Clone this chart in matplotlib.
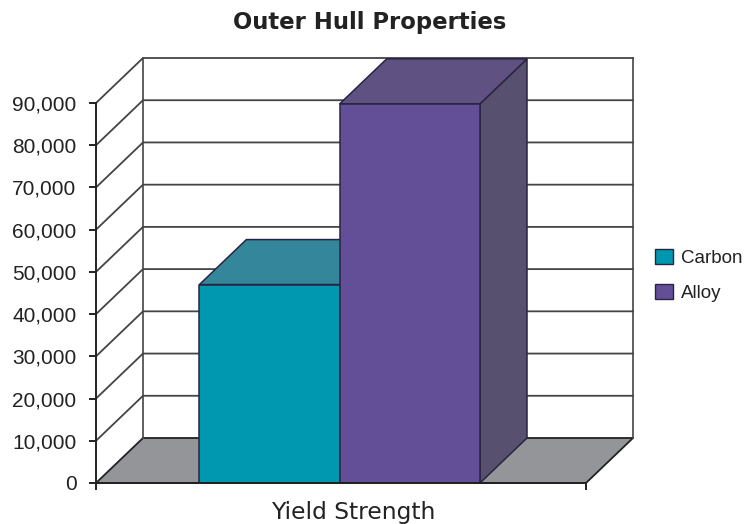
import matplotlib
matplotlib.use("Agg")
import matplotlib.pyplot as plt
from matplotlib.patches import Polygon, Patch

title = "Outer Hull Properties"
category = "Yield Strength"
series = ["Carbon", "Alloy"]
values = [47000, 89800]
front_colors = ["#0097B0", "#624F98"]
top_colors = ["#34869A", "#5F5283"]
side_colors = ["#2F7488", "#58506F"]
y_ticks = list(range(0, 100000, 10000))

W, H = 756, 524
L, R, B, T = 96, 586, 483, 103
fig = plt.figure(figsize=(W / 100, H / 100), dpi=100)
ax = fig.add_axes([L / W, 1 - B / H, (R - L) / W, (B - T) / H])
ax.set_xlim(0, 1)
ax.set_ylim(0, 90000)

depth_x = 47 / (R - L)
depth_y = 45 / (B - T) * 90000
bar_w = 140.3 / (R - L)
bar_start = 0.5 - bar_w - 1.3 / (R - L)
ymax = y_ticks[-1]
edge = "#2A2440"
grid = "#444444"

# walls and floor
ax.add_patch(Polygon([(0, 0), (1, 0), (1 + depth_x, depth_y), (depth_x, depth_y)],
                     closed=True, fc="#939598", ec="none", clip_on=False, zorder=1))
ax.plot([0, 1, 1 + depth_x, depth_x, 0], [0, 0, depth_y, depth_y, 0],
        color="#222222", lw=1.3, clip_on=False, zorder=2)
for v in y_ticks[1:]:
    ax.plot([0, depth_x, 1 + depth_x], [v, v + depth_y, v + depth_y],
            color=grid, lw=1.3, clip_on=False, zorder=2)
ax.plot([depth_x, depth_x], [depth_y, ymax + depth_y], color=grid, lw=1.2, clip_on=False, zorder=2)
ax.plot([1 + depth_x, 1 + depth_x], [depth_y, ymax + depth_y], color=grid, lw=1.2, clip_on=False, zorder=2)

# 3D bars
for i, v in enumerate(values):
    x0 = bar_start + i * bar_w
    x1 = x0 + bar_w
    z = 3 + i
    ax.add_patch(Polygon([(x1, 0), (x1 + depth_x, depth_y), (x1 + depth_x, v + depth_y), (x1, v)],
                         closed=True, fc=side_colors[i], ec=edge, lw=1.1, clip_on=False, zorder=z))
    ax.add_patch(Polygon([(x0, v), (x1, v), (x1 + depth_x, v + depth_y), (x0 + depth_x, v + depth_y)],
                         closed=True, fc=top_colors[i], ec=edge, lw=1.1, clip_on=False, zorder=z))
    ax.add_patch(Polygon([(x0, 0), (x1, 0), (x1, v), (x0, v)],
                         closed=True, fc=front_colors[i], ec=edge, lw=1.1, clip_on=False, zorder=z))

# axes
for s in ["top", "right"]:
    ax.spines[s].set_visible(False)
for s in ["left", "bottom"]:
    ax.spines[s].set_color("#222222")
    ax.spines[s].set_linewidth(1.4)
    ax.spines[s].set_zorder(6)
ax.patch.set_visible(False)
ax.set_yticks(y_ticks)
ax.set_yticklabels([f"{v:,}" for v in y_ticks], family="Liberation Sans",
                   fontsize=15, color="#222222")
ax.set_xticks([0, 1])
ax.set_xticklabels(["", ""])
ax.tick_params(axis="y", length=5, width=1.4, pad=9, color="#222222")
ax.tick_params(axis="x", length=5, width=1.4, color="#222222")

fig.text(353 / W, 1 - 512 / H, category, ha="center", va="center",
         family="DejaVu Sans", fontsize=16.8, color="#222222")
fig.text(370 / W, 1 - 23 / H, title, ha="center", va="center",
         family="DejaVu Sans", fontweight="bold", fontsize=16.4, color="#222222")

handles = [Patch(fc=c, ec=edge, lw=1.0) for c in front_colors]
fig.legend(handles, series, loc="upper left", bbox_to_anchor=(655 / W, 1 - 248.5 / H),
           frameon=False, borderpad=0, borderaxespad=0, handlelength=0.98, handleheight=0.9,
           handletextpad=0.4, labelspacing=0.9,
           prop={"family": "Liberation Sans", "size": 13.5}, labelcolor="#222222")

fig.savefig("out.png", dpi=100)
